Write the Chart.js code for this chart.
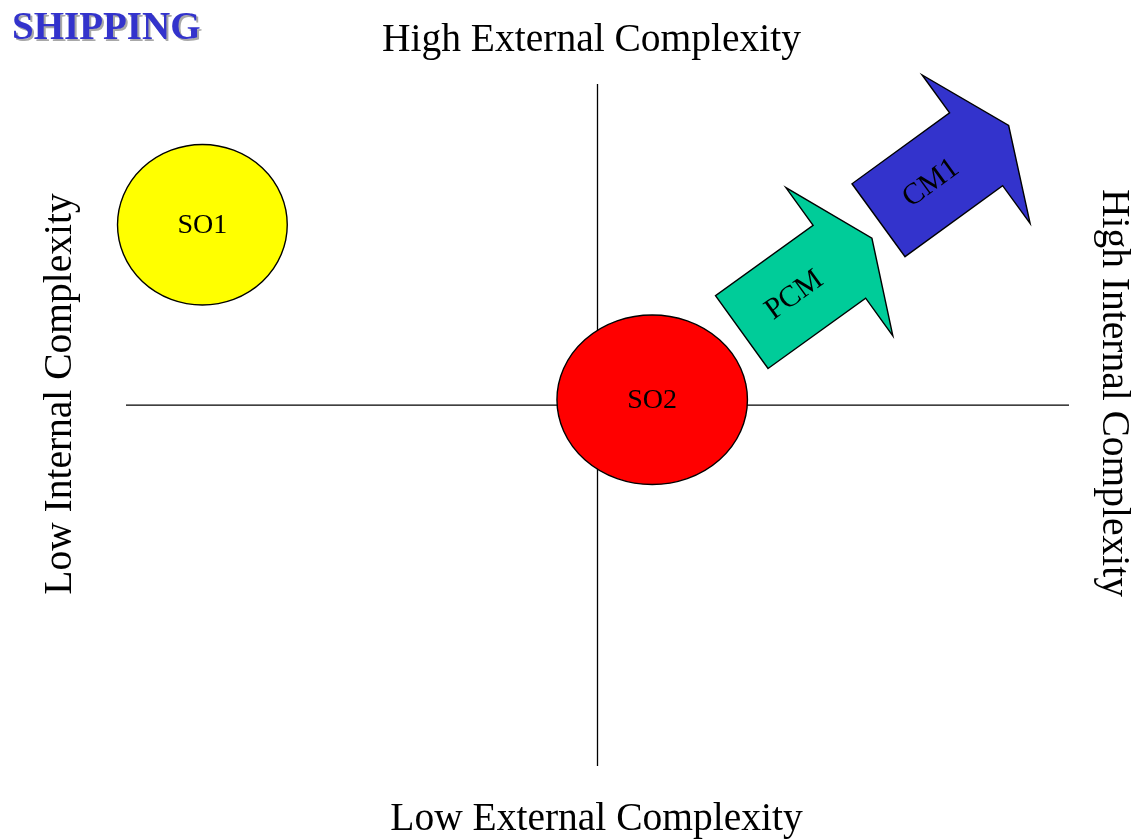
<!DOCTYPE html>
<html>
<head>
<meta charset="utf-8">
<script src="https://cdn.jsdelivr.net/npm/chart.js@4.4.1/dist/chart.umd.min.js"></script>
<style>
html,body{margin:0;padding:0;background:#fff;}
canvas{display:block;}
</style>
</head>
<body>
<canvas id="c" width="1136" height="839"></canvas>
<script>
// Quadrant extents: external complexity on x, internal complexity on y
const xRange = [-5, 5];
const yRange = [-4, 3.56];

// Strategy positions drawn as ovals
const ovalNames = ['SO1', 'SO2'];
const ovalX = [-4.19, 0.58];
const ovalY = [2.0, 0.06];
const ovalRX = [0.90, 1.01];
const ovalRY = [0.89, 0.94];
const ovalColors = ['#FFFF00', '#FF0000'];

// Migration arrows: tail centre -> tip
const arrowNames = ['PCM', 'CM1'];
const arrowFromX = [1.53, 2.98];
const arrowFromY = [0.81, 2.05];
const arrowToX = [2.91, 4.36];
const arrowToY = [1.85, 3.10];
const arrowColors = ['#00CC99', '#3333CC'];

// Quadrant edge captions
const captionTop = 'High External Complexity';
const captionBottom = 'Low External Complexity';
const captionLeft = 'Low Internal Complexity';
const captionRight = 'High Internal Complexity';
const pageTitle = 'SHIPPING';

const SERIF = '"Liberation Serif", "Times New Roman", serif';

const quadrantShapes = {
  id: 'quadrantShapes',
  afterDatasetsDraw(chart) {
    const {ctx, scales: {x, y}} = chart;
    ctx.save();
    // ovals
    ovalNames.forEach((name, i) => {
      const cx = x.getPixelForValue(ovalX[i]);
      const cy = y.getPixelForValue(ovalY[i]);
      const rx = Math.abs(x.getPixelForValue(ovalX[i] + ovalRX[i]) - cx);
      const ry = Math.abs(y.getPixelForValue(ovalY[i] + ovalRY[i]) - cy);
      ctx.beginPath();
      ctx.ellipse(cx, cy, rx, ry, 0, 0, Math.PI * 2);
      ctx.fillStyle = ovalColors[i];
      ctx.fill();
      ctx.lineWidth = 1.4;
      ctx.strokeStyle = '#000';
      ctx.stroke();
      ctx.fillStyle = '#000';
      ctx.font = '28px ' + SERIF;
      ctx.textAlign = 'center';
      ctx.textBaseline = 'middle';
      ctx.fillText(name, cx, cy + 1);
    });
    // arrows
    arrowNames.forEach((name, i) => {
      const tx = x.getPixelForValue(arrowFromX[i]);
      const ty = y.getPixelForValue(arrowFromY[i]);
      const px = x.getPixelForValue(arrowToX[i]);
      const py = y.getPixelForValue(arrowToY[i]);
      const dx = px - tx, dy = py - ty;
      const L = Math.hypot(dx, dy);
      const ux = dx / L, uy = dy / L;
      const nx = -uy, ny = ux;
      const hw = 0.28 * L, hh = 0.57 * L, hl = 0.25 * L;
      const sx = px - ux * hl, sy = py - uy * hl;
      const pts = [
        [tx + nx * hw, ty + ny * hw],
        [sx + nx * hw, sy + ny * hw],
        [sx + nx * hh, sy + ny * hh],
        [px, py],
        [sx - nx * hh, sy - ny * hh],
        [sx - nx * hw, sy - ny * hw],
        [tx - nx * hw, ty - ny * hw]
      ];
      ctx.beginPath();
      pts.forEach((p, k) => k ? ctx.lineTo(p[0], p[1]) : ctx.moveTo(p[0], p[1]));
      ctx.closePath();
      ctx.fillStyle = arrowColors[i];
      ctx.fill();
      ctx.lineWidth = 1.4;
      ctx.lineJoin = 'miter';
      ctx.strokeStyle = '#000';
      ctx.stroke();
      // label along the shaft
      ctx.save();
      ctx.translate(tx + dx * 0.4, ty + dy * 0.4);
      ctx.rotate(Math.atan2(dy, dx));
      ctx.fillStyle = '#000';
      ctx.font = '30px ' + SERIF;
      ctx.textAlign = 'center';
      ctx.textBaseline = 'middle';
      ctx.fillText(name, 0, 1);
      ctx.restore();
    });
    ctx.restore();
  },
  afterDraw(chart) {
    const {ctx, chartArea: a} = chart;
    ctx.save();
    ctx.fillStyle = '#000';
    ctx.font = '39.5px ' + SERIF;
    ctx.textAlign = 'center';
    ctx.textBaseline = 'alphabetic';
    const midX = (a.left + a.right) / 2;
    const midY = (a.top + a.bottom) / 2;
    ctx.fillText(captionTop, midX - 6, a.top - 33);
    ctx.fillText(captionBottom, midX - 1, a.bottom + 64);
    ctx.save();
    ctx.translate(a.left - 55, midY - 31);
    ctx.rotate(-Math.PI / 2);
    ctx.fillText(captionLeft, 0, 0);
    ctx.restore();
    ctx.save();
    ctx.translate(a.right + 34, midY - 32);
    ctx.rotate(Math.PI / 2);
    ctx.fillText(captionRight, 0, 0);
    ctx.restore();
    // page heading with drop shadow
    ctx.textAlign = 'left';
    ctx.font = 'bold 39px ' + SERIF;
    ctx.fillStyle = '#A8A8A8';
    ctx.fillText(pageTitle, 14, 41);
    ctx.fillStyle = '#3333CC';
    ctx.fillText(pageTitle, 12, 39);
    ctx.restore();
  }
};

new Chart(document.getElementById('c'), {
  type: 'scatter',
  data: {
    datasets: [
      {
        type: 'line',
        data: [{x: xRange[0], y: 0}, {x: xRange[1], y: 0}],
        borderColor: '#000', borderWidth: 1.3, pointRadius: 0, clip: false
      },
      {
        type: 'line',
        data: [{x: 0, y: yRange[0]}, {x: 0, y: yRange[1]}],
        borderColor: '#000', borderWidth: 1.3, pointRadius: 0, clip: false
      },
      {
        data: ovalX.map((v, i) => ({x: v, y: ovalY[i]})),
        pointRadius: 0
      }
    ]
  },
  options: {
    responsive: false,
    animation: false,
    events: [],
    layout: {padding: {left: 126, top: 84, right: 67, bottom: 73}},
    plugins: {legend: {display: false}, tooltip: {enabled: false}, title: {display: false}},
    scales: {
      x: {type: 'linear', display: false, min: xRange[0], max: xRange[1]},
      y: {type: 'linear', display: false, min: yRange[0], max: yRange[1]}
    }
  },
  plugins: [quadrantShapes]
});
</script>
</body>
</html>
